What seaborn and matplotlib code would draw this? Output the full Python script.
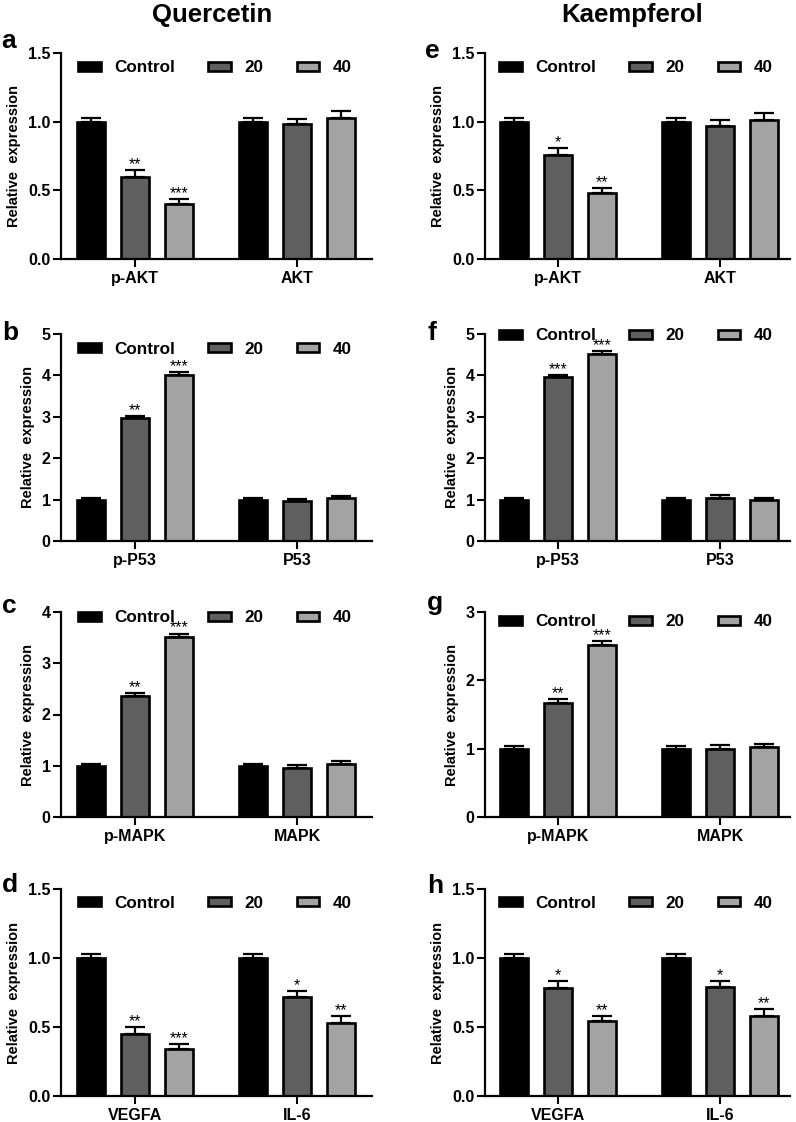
import pandas as pd
import seaborn as sns
import matplotlib.pyplot as plt

sns.set_theme(style='ticks')
plt.rcParams['font.family'] = ['Liberation Sans', 'DejaVu Sans']
plt.rcParams['font.weight'] = 'bold'
plt.rcParams['text.color'] = 'black'
plt.rcParams['axes.labelcolor'] = 'black'
plt.rcParams['xtick.color'] = 'black'
plt.rcParams['ytick.color'] = 'black'

doses = ['Control', '20', '40']
colors = ['#000000', '#5f5f5f', '#a3a3a3']

# panel a / e
akt_genes = ['p-AKT', 'AKT']
q_akt = [[1.00, 1.00], [0.60, 0.98], [0.40, 1.03]]
q_akt_err = [[0.03, 0.03], [0.05, 0.04], [0.04, 0.05]]
q_akt_sig = [['', ''], ['**', ''], ['***', '']]
k_akt = [[1.00, 1.00], [0.76, 0.97], [0.48, 1.01]]
k_akt_err = [[0.03, 0.03], [0.05, 0.04], [0.04, 0.05]]
k_akt_sig = [['', ''], ['*', ''], ['**', '']]

# panel b / f
p53_genes = ['p-P53', 'P53']
q_p53 = [[1.00, 1.00], [2.96, 0.96], [4.01, 1.04]]
q_p53_err = [[0.04, 0.04], [0.07, 0.06], [0.07, 0.05]]
q_p53_sig = [['', ''], ['**', ''], ['***', '']]
k_p53 = [[1.00, 1.00], [3.96, 1.05], [4.51, 1.00]]
k_p53_err = [[0.04, 0.04], [0.06, 0.07], [0.07, 0.05]]
k_p53_sig = [['', ''], ['***', ''], ['***', '']]

# panel c / g
mapk_genes = ['p-MAPK', 'MAPK']
q_mapk = [[1.00, 1.00], [2.36, 0.96], [3.52, 1.04]]
q_mapk_err = [[0.04, 0.04], [0.06, 0.06], [0.06, 0.05]]
q_mapk_sig = [['', ''], ['**', ''], ['***', '']]
k_mapk = [[1.00, 1.00], [1.67, 0.99], [2.52, 1.02]]
k_mapk_err = [[0.04, 0.04], [0.05, 0.06], [0.06, 0.05]]
k_mapk_sig = [['', ''], ['**', ''], ['***', '']]

# panel d / h
inf_genes = ['VEGFA', 'IL-6']
q_inf = [[1.00, 1.00], [0.45, 0.72], [0.34, 0.53]]
q_inf_err = [[0.03, 0.03], [0.05, 0.04], [0.04, 0.05]]
q_inf_sig = [['', ''], ['**', '*'], ['***', '**']]
k_inf = [[1.00, 1.00], [0.78, 0.79], [0.54, 0.58]]
k_inf_err = [[0.03, 0.03], [0.05, 0.04], [0.04, 0.05]]
k_inf_sig = [['', ''], ['*', '*'], ['**', '**']]

panels = [
    ('a', akt_genes, q_akt, q_akt_err, q_akt_sig, [0, 0.5, 1.0, 1.5], '{:.1f}'),
    ('b', p53_genes, q_p53, q_p53_err, q_p53_sig, [0, 1, 2, 3, 4, 5], '{:d}'),
    ('c', mapk_genes, q_mapk, q_mapk_err, q_mapk_sig, [0, 1, 2, 3, 4], '{:d}'),
    ('d', inf_genes, q_inf, q_inf_err, q_inf_sig, [0, 0.5, 1.0, 1.5], '{:.1f}'),
    ('e', akt_genes, k_akt, k_akt_err, k_akt_sig, [0, 0.5, 1.0, 1.5], '{:.1f}'),
    ('f', p53_genes, k_p53, k_p53_err, k_p53_sig, [0, 1, 2, 3, 4, 5], '{:d}'),
    ('g', mapk_genes, k_mapk, k_mapk_err, k_mapk_sig, [0, 1, 2, 3], '{:d}'),
    ('h', inf_genes, k_inf, k_inf_err, k_inf_sig, [0, 0.5, 1.0, 1.5], '{:.1f}'),
]

W, H = 796, 1122
fig = plt.figure(figsize=(W / 100, H / 100), dpi=100)

col_x = [(61, 372), (485, 790)]
col_xlim = [(-0.457, 1.463), (-0.45, 1.43)]
row_y = [(53, 259), (334, 541), (612, 817), (889, 1096)]
# legend distance below the axes top, pixels, per panel
legend_drop = {'a': 15, 'b': 15, 'c': 6, 'd': 14,
               'e': 15, 'f': 2, 'g': 10, 'h': 14}
# panel letter baseline, pixels
letter_pos = {'a': (1, 48), 'b': (2, 340), 'c': (2, 613), 'd': (2, 892),
              'e': (425, 58), 'f': (428, 340), 'g': (427, 610), 'h': (427, 893)}

for i, (letter, genes, vals, errs, sigs, yticks, fmt) in enumerate(panels):
    col, row = divmod(i, 4)
    x0, x1 = col_x[col]
    y0, y1 = row_y[row]
    ax = fig.add_axes([x0 / W, 1 - y1 / H, (x1 - x0) / W, (y1 - y0) / H])

    rows = []
    for d, dose in enumerate(doses):
        for g, gene in enumerate(genes):
            rows.append({'gene': gene, 'dose': dose, 'value': vals[d][g]})
    df = pd.DataFrame(rows)

    sns.barplot(data=df, x='gene', y='value', hue='dose', hue_order=doses,
                palette=colors, edgecolor='black', linewidth=1.9,
                errorbar=None, width=0.815, gap=0.37, ax=ax)

    # error bars (upper half only) and significance stars
    bar_groups = list(ax.containers)
    for d, cont in enumerate(bar_groups):
        for g, bar in enumerate(cont.patches):
            xc = bar.get_x() + bar.get_width() / 2
            top = bar.get_height()
            ax.errorbar(xc, top, yerr=[[0], [errs[d][g]]], fmt='none',
                        ecolor='black', elinewidth=1.6, capsize=7,
                        capthick=1.6, zorder=1)
            if sigs[d][g]:
                ax.annotate(sigs[d][g], (xc, top + errs[d][g]),
                            xytext=(0, -1.5), textcoords='offset points',
                            ha='center', va='bottom', fontsize=11.5,
                            fontweight='normal')

    handles, labels = ax.get_legend_handles_labels()
    ax.legend(handles, labels, ncol=3, frameon=False, loc='center',
              bbox_to_anchor=(0.495, 1 - legend_drop[letter] / (y1 - y0)),
              fontsize=12.3, handlelength=1.3, handleheight=0.5,
              handletextpad=0.8, columnspacing=1.95, borderpad=0)

    ax.set_xlim(*col_xlim[col])
    ax.set_ylim(yticks[0], yticks[-1])
    ax.set_yticks(yticks)
    ax.set_yticklabels([fmt.format(t) for t in yticks])
    ax.set_xlabel('')
    ax.set_ylabel('Relative  expression', fontsize=10.5, fontweight='bold',
                  labelpad=5)
    ax.tick_params(axis='both', direction='out', length=6, width=1.5,
                   colors='black', pad=1.5)
    ax.tick_params(axis='y', labelsize=11.5)
    ax.tick_params(axis='x', labelsize=11.5, pad=2.5)
    for lab in ax.get_xticklabels() + ax.get_yticklabels():
        lab.set_fontweight('bold')
    sns.despine(ax=ax)
    for s in ['left', 'bottom']:
        ax.spines[s].set_linewidth(1.6)
        ax.spines[s].set_color('black')

    lx, ly = letter_pos[letter]
    fig.text(lx / W, 1 - ly / H, letter, fontsize=19,
             fontweight='bold', ha='left', va='baseline')

fig.text(212 / W, 1 - 22 / H, 'Quercetin', fontsize=18.5, fontweight='bold',
         ha='center', va='baseline')
fig.text(632 / W, 1 - 22 / H, 'Kaempferol', fontsize=18.5, fontweight='bold',
         ha='center', va='baseline')

fig.savefig('out.png', dpi=100, facecolor='white')
